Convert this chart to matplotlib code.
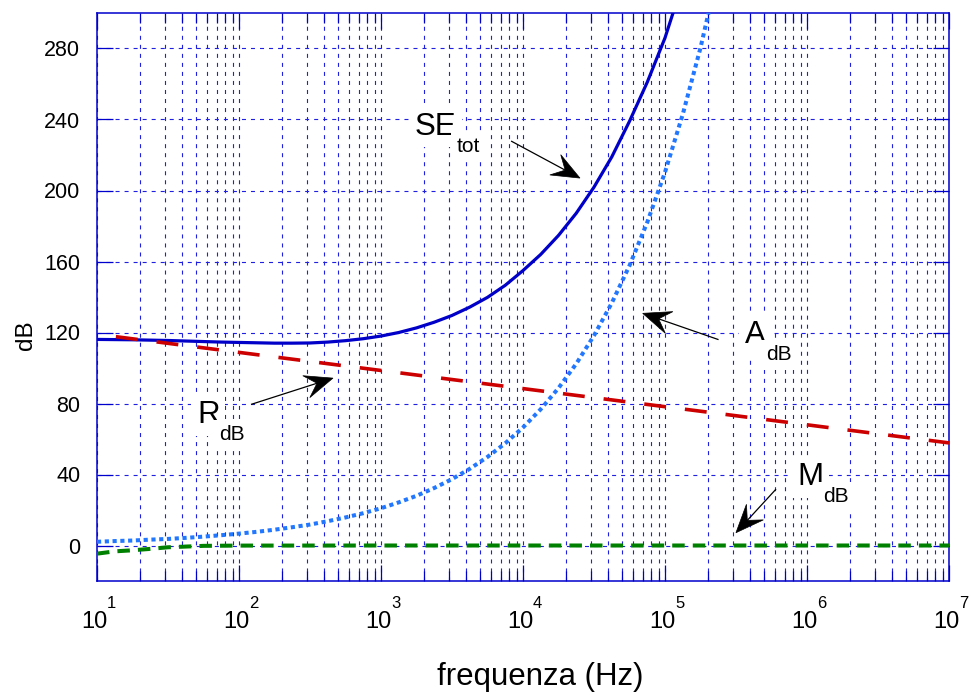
import numpy as np
import matplotlib
matplotlib.use('Agg')
import matplotlib.pyplot as plt
from matplotlib.ticker import FixedLocator, NullFormatter
from matplotlib.patches import Polygon
from matplotlib.lines import Line2D
import matplotlib.transforms as mtransforms

plt.rcParams['font.family'] = ['Liberation Sans', 'DejaVu Sans']
plt.rcParams['lines.scale_dashes'] = False

# ---------------- data ----------------
freq_se = [10, 13.34, 17.78, 23.71, 31.62, 42.17, 56.23, 74.99,
           100, 133.4, 177.8, 237.1, 316.2, 421.7, 562.3, 749.9,
           1000, 1334, 1778, 2371, 3162, 4217, 5623, 7499,
           10000, 13335, 17783, 23714, 31623, 42170, 56234, 74989,
           100000, 133352]
se_tot = [116.1, 116.0, 115.9, 115.7, 115.5, 115.2, 114.9, 114.6,
          114.4, 114.2, 114.0, 114.0, 114.1, 114.6, 115.4, 116.5,
          118.0, 120.0, 122.6, 125.8, 129.6, 134.3, 139.8, 146.6,
          154.9, 164.0, 174.7, 187.2, 201.9, 218.9, 239.0, 261.0,
          286.0, 317.0]

freq_a = [10, 13.34, 17.78, 23.71, 31.62, 42.17, 56.23, 74.99,
          100, 133.4, 177.8, 237.1, 316.2, 421.7, 562.3, 749.9,
          1000, 1334, 1778, 2371, 3162, 4217, 5623, 7499,
          10000, 13335, 17783, 23714, 31623, 42170, 56234, 74989,
          100000, 133352, 177828, 237137]
a_db = [2.1, 2.5, 2.8, 3.3, 3.7, 4.3, 5.0, 5.8,
        6.7, 7.7, 8.9, 10.3, 11.8, 13.7, 15.8, 18.2,
        21.0, 24.3, 28.0, 32.4, 37.4, 43.2, 49.9, 57.6,
        66.5, 76.8, 88.7, 102.4, 118.3, 136.6, 157.7, 182.1,
        210.3, 242.9, 280.4, 323.9]

freq_r = [10, 100, 1e3, 1e4, 1e5, 1e6, 1e7]
r_db = [119.0, 108.8, 98.6, 88.4, 78.2, 68.0, 57.8]

freq_m = [10, 13.34, 17.78, 23.71, 31.62, 42.17, 56.23, 100, 1000, 1e4,
          1e5, 1e6, 1e7]
m_db = [-4.6, -3.3, -2.7, -1.9, -1.0, -0.6, -0.2, -0.05, 0, 0, 0, 0, 0]

y_ticks = [0, 40, 80, 120, 160, 200, 240, 280]
x_decades = [1, 2, 3, 4, 5, 6, 7]

# ---------------- figure ----------------
W, H = 972, 696
fig = plt.figure(figsize=(W / 100, H / 100), dpi=100)
ax = fig.add_axes([97 / W, 1 - 581 / H, (949 - 97) / W, (581 - 13) / H])

frame_c = '#0000cc'
grid_c = '#2020e0'

ax.set_xscale('log')
ax.set_xlim(10, 1e7)
ax.set_ylim(-20, 300)
ax.set_axisbelow(True)

ax.xaxis.set_major_locator(FixedLocator([10.0 ** d for d in x_decades]))
minors = [m * 10.0 ** d for d in x_decades[:-1] for m in range(2, 10)]
ax.xaxis.set_minor_locator(FixedLocator(minors))
ax.xaxis.set_minor_formatter(NullFormatter())
ax.xaxis.set_major_formatter(NullFormatter())
ax.yaxis.set_major_locator(FixedLocator(y_ticks))

ax.grid(True, which='major', axis='both', color=grid_c, lw=0.8,
        linestyle=(0, (2.9, 3.6)))
ax.grid(True, which='minor', axis='x', color=grid_c, lw=0.8,
        linestyle=(0, (2.9, 3.6)))

for s in ax.spines.values():
    s.set_color(frame_c)
    s.set_linewidth(1.1)

ax.tick_params(which='both', direction='in', top=True, right=True,
               color=frame_c, width=0.9)
ax.tick_params(which='major', length=11.5)
ax.tick_params(which='minor', length=7.5)
ax.tick_params(axis='y', which='major', labelsize=15.5, pad=12)

# x tick labels: "10" with raised exponent
xt = mtransforms.blended_transform_factory(ax.transData, fig.transFigure)
for d in x_decades:
    xv = 10.0 ** d
    base = ax.text(xv, 1 - 628 / H, '10', fontsize=17, ha='center',
                   va='baseline',
                   transform=xt + mtransforms.ScaledTranslation(
                       -3 / 100, 0, fig.dpi_scale_trans))
    ax.text(xv, 1 - 608 / H, str(d), fontsize=12, ha='left', va='baseline',
            transform=xt + mtransforms.ScaledTranslation(
                10 / 100, 0, fig.dpi_scale_trans))

# ---------------- curves ----------------
ax.plot(freq_se, se_tot, color='#0000c8', lw=2.3, solid_capstyle='butt',
        solid_joinstyle='round', zorder=5)
ax.plot(freq_a, a_db, color='#2277ff', lw=2.9, linestyle=(0, (3.0, 2.6)),
        dash_capstyle='butt', zorder=5)
ax.plot(freq_r, r_db, color='#cc0000', lw=2.6, linestyle=(15.8, (15.8, 13.7)),
        dash_capstyle='butt', zorder=5)
ax.plot(freq_m, m_db, color='#008000', lw=2.9, linestyle=(0, (9.0, 5.8)),
        dash_capstyle='butt', zorder=5)

# ---------------- labels ----------------
fig.text(540 / W, 1 - 685 / H, 'frequenza (Hz)', ha='center',
         va='baseline', fontsize=22.5)
fig.text(32 / W, 1 - 335 / H, 'dB', ha='center', va='baseline',
         rotation=90, rotation_mode='anchor', fontsize=17.5)

fig.canvas.draw()
renderer = fig.canvas.get_renderer()

box = dict(facecolor='white', edgecolor='none', pad=4)


def label(x, y, main, sub):
    t = ax.text(x, y, main, fontsize=22.5, ha='left', va='baseline',
                zorder=3, bbox=box)
    ext = t.get_window_extent(renderer=renderer)
    x0, y0 = ax.transData.transform((x, y))
    dx = ext.x1 - x0
    off = mtransforms.ScaledTranslation(dx / 100, -17 / 100,
                                        fig.dpi_scale_trans)
    ax.text(x, y, sub, fontsize=15, ha='left', va='baseline', zorder=3,
            bbox=box, transform=ax.transData + off)


label(1734, 231.5, 'SE', 'tot')
label(365700, 114, 'A', 'dB')
label(50.6, 68.9, 'R', 'dB')
label(851000, 33.9, 'M', 'dB')


def arrow(tail, tip, L=28, Wd=11.5, notch=0.6):
    p0 = np.array(ax.transData.transform(tail))
    p1 = np.array(ax.transData.transform(tip))
    u = (p1 - p0) / np.hypot(*(p1 - p0))
    n = np.array([-u[1], u[0]])
    back = p1 - L * u
    nb = p1 - notch * L * u
    ax.add_line(Line2D([p0[0], nb[0]], [p0[1], nb[1]], color='black',
                       lw=0.9, transform=None, zorder=6))
    poly = Polygon([p1, back + Wd * n, nb, back - Wd * n], closed=True,
                   facecolor='black', edgecolor='black', lw=0.5,
                   transform=None, zorder=6)
    ax.add_patch(poly)


arrow((8318, 227.7), (25180, 207.0))
arrow((236000, 116.1), (69660, 130.8))
arrow((122.8, 79.6), (459, 94.3))
arrow((601000, 31.5), (316000, 7.2))

fig.savefig('out.png', dpi=100)
